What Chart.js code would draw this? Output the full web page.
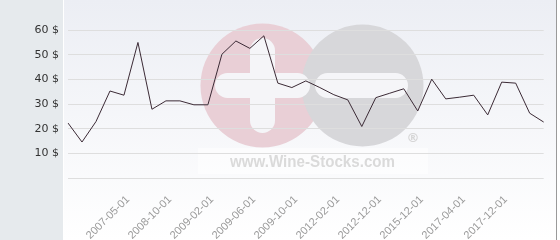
<!DOCTYPE html>
<html>
<head>
<meta charset="utf-8">
<script src="https://cdn.jsdelivr.net/npm/chart.js@4/dist/chart.umd.min.js"></script>
<style>
  html, body { margin: 0; padding: 0; background: #ffffff; }
  #c { display: block; }
</style>
</head>
<body>
<canvas id="c" width="560" height="240"></canvas>
<script>
// ---- data ----
const categories = [
  '', '', '', '', '2007-05-01', '', '', '2008-10-01', '', '',
  '2009-02-01', '', '', '2009-06-01', '', '', '2009-10-01', '', '', '2012-02-01',
  '', '', '2012-12-01', '', '', '2015-12-01', '', '', '2017-04-01', '',
  '', '2017-12-01', '', '', ''
];
const prices = [
  22.3, 14.6, 22.9, 35.3, 33.6, 55.0, 27.9, 31.3, 31.3, 29.7,
  29.7, 50.2, 55.6, 52.6, 57.7, 38.5, 36.7, 39.4, 36.7, 33.8,
  31.7, 20.9, 32.6, 34.4, 36.2, 27.2, 40.1, 32.1, 32.8, 33.6,
  25.6, 38.9, 38.5, 26.3, 22.7
];
const yTickValues = [10, 20, 30, 40, 50, 60];
const currencySuffix = ' $';
const watermarkText = 'www.Wine-Stocks.com';

// ---- background + watermark plugin ----
const backdrop = {
  id: 'backdrop',
  beforeDraw(chart) {
    const ctx = chart.ctx;
    const W = chart.width, H = chart.height;
    ctx.save();
    ctx.fillStyle = '#ffffff';
    ctx.fillRect(0, 0, W, H);
    ctx.fillStyle = '#e6eaed';
    ctx.fillRect(0, 0, 63, H);
    const g = ctx.createLinearGradient(0, 0, 0, H);
    g.addColorStop(0, '#eceef4');
    g.addColorStop(1, '#ffffff');
    ctx.fillStyle = g;
    ctx.fillRect(64, 0, 492, H);
    ctx.fillStyle = '#9a9a9a';
    ctx.fillRect(556, 0, 1, H);

    // watermark
    const bg = '#f5f5f8';
    ctx.fillStyle = '#e9cfd6';
    ctx.beginPath(); ctx.arc(262.5, 85.5, 62, 0, Math.PI * 2); ctx.fill();
    ctx.fillStyle = '#d7d7da';
    ctx.beginPath(); ctx.arc(362.5, 85.5, 61, 0, Math.PI * 2); ctx.fill();
    ctx.fillStyle = bg;
    function pill(x, y, w, h) {
      const r = Math.min(w, h) / 2;
      ctx.beginPath();
      ctx.roundRect(x, y, w, h, r);
      ctx.fill();
    }
    pill(250, 38, 25, 95);
    pill(215, 73, 95, 25);
    pill(315, 73, 93, 25);
    // text band
    ctx.fillStyle = 'rgba(255,255,255,0.55)';
    ctx.fillRect(198, 148, 230, 26);
    ctx.fillStyle = '#dadada';
    ctx.font = 'bold 17px "Liberation Sans", Arial, sans-serif';
    const tw = ctx.measureText(watermarkText).width;
    ctx.save();
    ctx.translate(230, 167);
    ctx.scale(165 / tw, 1);
    ctx.textBaseline = 'alphabetic';
    ctx.fillText(watermarkText, 0, 0);
    ctx.restore();
    ctx.font = 'bold 13px "DejaVu Sans", sans-serif';
    ctx.fillStyle = '#d6d6d6';
    ctx.textAlign = 'center';
    ctx.textBaseline = 'middle';
    ctx.fillText('\u00AE', 413, 139);
    ctx.restore();
  }
};

new Chart(document.getElementById('c'), {
  type: 'line',
  data: {
    labels: categories,
    datasets: [{
      data: prices,
      borderColor: '#3b2a35',
      borderWidth: 1,
      pointRadius: 0,
      pointHoverRadius: 0,
      tension: 0,
      fill: false
    }]
  },
  options: {
    responsive: false,
    animation: false,
    devicePixelRatio: 1,
    layout: { padding: { top: 0, right: 5.7, left: 0, bottom: 0 } },
    plugins: { legend: { display: false }, tooltip: { enabled: false } },
    scales: {
      x: {
        offset: false,
        grid: { display: false },
        border: { display: false },
        ticks: {
          autoSkip: false,
          minRotation: 45,
          maxRotation: 45,
          color: '#9a9a9a',
          padding: 7,
          labelOffset: 4,
          font: { family: '"Liberation Sans", Arial, sans-serif', size: 11 }
        },
        afterFit(s) { s.height = 62; }
      },
      y: {
        min: 0,
        max: 70,
        border: { display: false },
        grid: {
          drawTicks: true,
          tickLength: 9,
          tickColor: 'rgba(0,0,0,0)',
          color: (c) => (c.tick && c.tick.value <= yTickValues[yTickValues.length - 1]) ? '#dedede' : 'rgba(0,0,0,0)',
          lineWidth: 1
        },
        ticks: {
          stepSize: 10,
          padding: 0,
          color: '#333333',
          font: { family: '"DejaVu Sans", sans-serif', size: 11, lineHeight: 1 },
          callback: (v) => yTickValues.includes(v) ? v + currencySuffix : ''
        },
        afterFit(s) { s.width = 68; }
      }
    }
  },
  plugins: [backdrop]
});
</script>
</body>
</html>
